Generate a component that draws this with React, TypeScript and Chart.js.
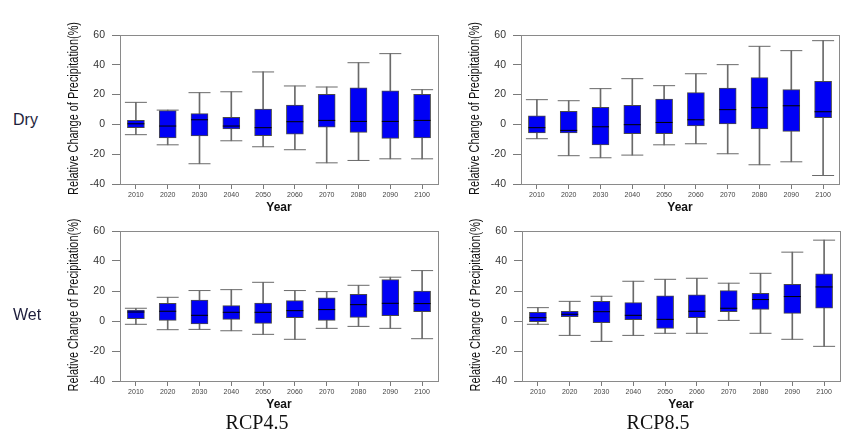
import React, { useEffect, useRef } from 'react';
import { Chart, registerables } from 'chart.js';

Chart.register(...registerables);
Chart.defaults.font.family = 'Arial, "Liberation Sans", sans-serif';

const years = ['2010', '2020', '2030', '2040', '2050', '2060', '2070', '2080', '2090', '2100'];
const yTickLabels = ['-40', '-20', '0', '20', '40', '60'];
const yTitle = 'Relative Change of Precipitation(%)';

// Dry, RCP4.5
const dry45Min = [-6.9, -13.7, -26.4, -11.0, -15.0, -17.0, -25.8, -24.2, -23.1, -23.1];
const dry45Q1 = [-2.2, -9.0, -7.8, -3.1, -7.6, -6.5, -1.8, -5.4, -9.4, -9.0];
const dry45Med = [0.4, -1.1, 3.1, -1.1, -2.2, 1.8, 2.7, 2.0, 2.0, 2.7];
const dry45Q3 = [2.7, 9.2, 7.2, 4.7, 10.3, 13.0, 20.2, 24.6, 22.6, 20.2];
const dry45Max = [14.8, 9.6, 21.3, 21.9, 35.2, 25.8, 25.1, 41.4, 47.5, 23.3];

// Dry, RCP8.5
const dry85Min = [-9.6, -21.0, -22.4, -20.6, -13.7, -13.0, -19.7, -27.1, -25.1, -34.3];
const dry85Q1 = [-5.8, -5.8, -13.7, -6.3, -6.3, -1.1, 0.0, -3.1, -4.7, 4.5];
const dry85Med = [-2.2, -4.0, -1.6, -0.2, 1.3, 3.1, 9.9, 11.2, 12.5, 8.5];
const dry85Q3 = [5.8, 8.7, 11.4, 12.8, 17.0, 21.3, 24.4, 31.4, 23.3, 28.9];
const dry85Max = [16.6, 15.9, 24.0, 30.7, 26.0, 34.0, 40.1, 52.4, 49.5, 56.2];

// Wet, RCP4.5
const wet45Min = [-2.2, -5.8, -5.6, -6.5, -8.9, -12.2, -4.9, -3.6, -4.9, -11.8];
const wet45Q1 = [1.6, 0.4, -2.0, 1.1, -1.6, 2.2, 0.4, 2.4, 3.6, 6.2];
const wet45Med = [6.0, 6.5, 3.8, 5.8, 5.8, 6.9, 7.6, 10.9, 11.8, 11.6];
const wet45Q3 = [7.3, 11.8, 14.0, 10.2, 12.0, 13.6, 15.4, 17.8, 27.6, 20.0];
const wet45Max = [8.5, 15.8, 20.3, 20.9, 25.8, 20.3, 19.6, 23.8, 29.2, 33.6];

// Wet, RCP8.5
const wet85Min = [-2.2, -9.6, -13.6, -9.6, -8.2, -8.2, 0.4, -8.2, -12.2, -16.9];
const wet85Q1 = [-0.4, 2.9, -1.1, 0.9, -4.9, 2.2, 6.2, 7.8, 5.1, 8.5];
const wet85Med = [2.2, 4.5, 6.2, 3.8, 1.1, 6.5, 8.5, 14.3, 16.3, 22.7];
const wet85Q3 = [5.8, 6.5, 13.1, 12.2, 16.7, 17.4, 20.3, 18.5, 24.5, 31.4];
const wet85Max = [8.9, 13.1, 16.5, 26.5, 27.8, 28.5, 25.2, 31.8, 45.9, 53.9];

const boxFrame = {
  id: 'boxFrame',
  beforeDatasetsDraw(chart: any) {
    const { ctx, chartArea: a } = chart;
    ctx.save();
    ctx.strokeStyle = '#8a8a8a';
    ctx.lineWidth = 1;
    ctx.strokeRect(Math.round(a.left) + 0.5, Math.round(a.top) + 0.5, Math.round(a.right - a.left), Math.round(a.bottom - a.top));
    ctx.restore();
  },
};

// condensed vertical axis title (the source uses a narrow face)
const narrowYTitle = {
  id: 'narrowYTitle',
  afterDraw(chart: any) {
    const { ctx, chartArea: a } = chart;
    ctx.save();
    ctx.translate(a.left - 46, (a.top + a.bottom) / 2 - 1);
    ctx.rotate(-Math.PI / 2);
    ctx.scale(0.78, 1);
    ctx.font = '14px Arial, "Liberation Sans", sans-serif';
    ctx.fillStyle = '#111';
    ctx.textAlign = 'center';
    ctx.textBaseline = 'middle';
    ctx.fillText(yTitle, 0, 0);
    ctx.restore();
  },
};

type PanelProps = {
  left: number; top: number; width: number; height: number; padRight: number;
  mins: number[]; q1s: number[]; meds: number[]; q3s: number[]; maxs: number[];
};

function Panel(p: PanelProps) {
  const ref = useRef<HTMLCanvasElement>(null);
  useEffect(() => {
    if (!ref.current) return;
    const chart = new Chart(ref.current, {
      type: 'bar',
      data: {
        labels: years,
        datasets: [
          {
            type: 'bar',
            data: years.map((_, i) => [p.mins[i], p.maxs[i]]) as any,
            backgroundColor: '#6a6a6a',
            borderWidth: 0,
            barThickness: 1,
            grouped: false,
            order: 4,
          } as any,
          {
            type: 'bar',
            data: years.map((_, i) => [p.q1s[i], p.q3s[i]]) as any,
            backgroundColor: '#0000f5',
            borderColor: '#4a4a4a',
            borderWidth: 1,
            borderSkipped: false,
            barThickness: 17,
            grouped: false,
            order: 3,
          } as any,
          {
            type: 'line',
            data: p.mins,
            showLine: false,
            pointStyle: 'line',
            pointRadius: 11,
            pointBorderColor: '#6a6a6a',
            pointBackgroundColor: '#6a6a6a',
            pointBorderWidth: 1,
            order: 2,
          } as any,
          {
            type: 'line',
            data: p.maxs,
            showLine: false,
            pointStyle: 'line',
            pointRadius: 11,
            pointBorderColor: '#6a6a6a',
            pointBackgroundColor: '#6a6a6a',
            pointBorderWidth: 1,
            order: 2,
          } as any,
          {
            type: 'line',
            data: p.meds,
            showLine: false,
            pointStyle: 'line',
            pointRadius: 8.5,
            pointBorderColor: '#000000',
            pointBackgroundColor: '#000000',
            pointBorderWidth: 1,
            order: 1,
          } as any,
        ],
      },
      options: {
        responsive: false,
        maintainAspectRatio: false,
        animation: false,
        devicePixelRatio: 1,
        events: [],
        layout: { padding: { top: 20, right: p.padRight, left: 0, bottom: 0 } },
        plugins: { legend: { display: false }, tooltip: { enabled: false } },
        scales: {
          x: {
            offset: true,
            grid: { display: true, offset: false, drawOnChartArea: false, drawTicks: true, tickLength: 5, color: '#7a7a7a' },
            border: { display: false },
            ticks: { font: { size: 7 }, color: '#444', padding: 2, maxRotation: 0, autoSkip: false },
            title: {
              display: true, text: 'Year', color: '#111',
              font: { size: 12, weight: 'bold' },
              padding: { top: 0, bottom: 5 },
            },
            afterFit: (s: any) => { s.height = 36; },
          },
          y: {
            min: -40,
            max: 60,
            grid: { display: true, drawOnChartArea: false, drawTicks: true, tickLength: 8, color: '#7a7a7a' },
            border: { display: false },
            ticks: {
              stepSize: 10,
              font: { size: 10.5 },
              color: '#333',
              padding: 7,
              callback: (v: any) => {
                const s = String(Math.round(Number(v)));
                return yTickLabels.includes(s) ? s : '';
              },
            },
            title: { display: false },
            afterFit: (s: any) => { s.width = 60; },
          },
        },
      } as any,
      plugins: [boxFrame, narrowYTitle],
    });
    return () => chart.destroy();
  }, []);
  return (
    <div style={{ position: 'absolute', left: p.left, top: p.top, width: p.width, height: p.height }}>
      <canvas ref={ref} width={p.width} height={p.height} style={{ width: p.width, height: p.height, display: 'block' }} />
    </div>
  );
}

const sideLabel: React.CSSProperties = {
  position: 'absolute',
  fontFamily: 'Arial, "Liberation Sans", sans-serif',
  fontSize: 16,
  color: '#1e1e3c',
  lineHeight: '18px',
};

const bottomLabel: React.CSSProperties = {
  position: 'absolute',
  fontFamily: '"Liberation Serif", "Times New Roman", serif',
  fontSize: 20,
  color: '#111',
  lineHeight: '20px',
  width: 120,
  textAlign: 'center',
};

export default function App() {
  return (
    <div style={{ position: 'absolute', left: 0, top: 0, width: 860, height: 435, background: '#fff', overflow: 'hidden' }}>
      <Panel left={60} top={15} width={390} height={205} padRight={3}
        mins={dry45Min} q1s={dry45Q1} meds={dry45Med} q3s={dry45Q3} maxs={dry45Max} />
      <Panel left={461} top={15} width={390} height={205} padRight={4}
        mins={dry85Min} q1s={dry85Q1} meds={dry85Med} q3s={dry85Q3} maxs={dry85Max} />
      <Panel left={60} top={211} width={390} height={206} padRight={3}
        mins={wet45Min} q1s={wet45Q1} meds={wet45Med} q3s={wet45Q3} maxs={wet45Max} />
      <Panel left={462} top={211} width={390} height={206} padRight={5}
        mins={wet85Min} q1s={wet85Q1} meds={wet85Med} q3s={wet85Q3} maxs={wet85Max} />
      <div style={{ ...sideLabel, left: 13, top: 111 }}>Dry</div>
      <div style={{ ...sideLabel, left: 13, top: 306 }}>Wet</div>
      <div style={{ ...bottomLabel, left: 197, top: 412 }}>RCP4.5</div>
      <div style={{ ...bottomLabel, left: 598, top: 412 }}>RCP8.5</div>
    </div>
  );
}
